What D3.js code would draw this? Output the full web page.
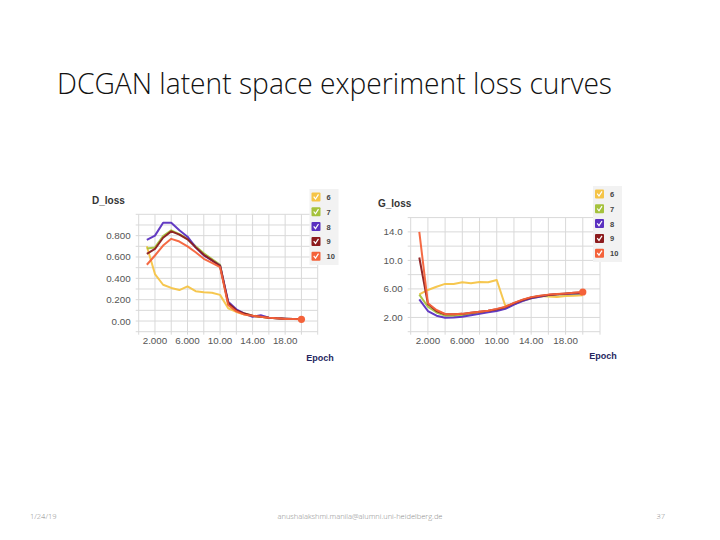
<!DOCTYPE html>
<html><head><meta charset="utf-8">
<script src="https://cdn.jsdelivr.net/npm/d3@7"></script>
<style>
html,body{margin:0;padding:0;background:#fff;}
svg{display:block;}
</style></head>
<body>
<svg id="c" width="720" height="540"></svg>
<script>
const epochs = d3.range(1, 21);
const seriesNames = ["6", "7", "8", "9", "10"];
const seriesColors = ["#f5c447", "#a5c23c", "#5a30c0", "#8c1b1d", "#f4623a"];

const dLoss6  = [0.70, 0.44, 0.34, 0.31, 0.29, 0.325, 0.28, 0.27, 0.265, 0.245, 0.12, 0.085, 0.06, 0.045, 0.04, 0.03, 0.025, 0.02, 0.02, 0.02];
const dLoss7  = [0.68, 0.69, 0.795, 0.85, 0.815, 0.77, 0.70, 0.635, 0.58, 0.527, 0.16, 0.10, 0.07, 0.05, 0.04, 0.03, 0.025, 0.022, 0.02, 0.02];
const dLoss8  = [0.76, 0.80, 0.92, 0.92, 0.85, 0.79, 0.69, 0.615, 0.567, 0.52, 0.18, 0.11, 0.07, 0.04, 0.055, 0.03, 0.025, 0.022, 0.02, 0.02];
const dLoss9  = [0.63, 0.675, 0.78, 0.84, 0.81, 0.765, 0.69, 0.62, 0.57, 0.515, 0.17, 0.10, 0.07, 0.05, 0.04, 0.03, 0.025, 0.022, 0.02, 0.02];
const dLoss10 = [0.527, 0.614, 0.707, 0.77, 0.745, 0.70, 0.645, 0.583, 0.545, 0.505, 0.15, 0.09, 0.06, 0.05, 0.04, 0.03, 0.025, 0.02, 0.018, 0.016];

const gLoss6  = [5.24, 5.85, 6.3, 6.7, 6.7, 6.93, 6.8, 6.98, 6.93, 7.25, 3.6, 3.9, 4.4, 4.75, 5.0, 4.95, 4.85, 5.0, 5.05, 5.1];
const gLoss7  = [5.2, 3.5, 2.7, 2.25, 2.25, 2.3, 2.5, 2.7, 2.85, 3.05, 3.3, 3.85, 4.35, 4.7, 4.95, 5.1, 5.2, 5.25, 5.3, 5.35];
const gLoss8  = [4.54, 2.9, 2.25, 1.97, 2.0, 2.1, 2.3, 2.5, 2.72, 2.9, 3.2, 3.8, 4.3, 4.7, 4.9, 5.15, 5.25, 5.3, 5.35, 5.4];
const gLoss9  = [10.4, 3.9, 2.9, 2.45, 2.45, 2.5, 2.65, 2.8, 2.95, 3.15, 3.45, 4.0, 4.45, 4.8, 5.0, 5.15, 5.25, 5.35, 5.45, 5.5];
const gLoss10 = [14.0, 3.98, 3.04, 2.48, 2.45, 2.5, 2.65, 2.8, 2.95, 3.2, 3.5, 4.05, 4.5, 4.85, 5.05, 5.2, 5.3, 5.35, 5.45, 5.57];

const xTickValues = [2, 6, 10, 14, 18];
const xTickLabels = ["2.000", "6.000", "10.00", "14.00", "18.00"];
const dTickValues = [0, 0.2, 0.4, 0.6, 0.8];
const dTickLabels = ["0.00", "0.200", "0.400", "0.600", "0.800"];
const gTickValues = [2, 6, 10, 14];
const gTickLabels = ["2.00", "6.00", "10.0", "14.0"];

const slideTitle = "DCGAN latent space experiment loss curves";
const footerDate = "1/24/19";
const footerEmail = "anushalakshmi.manila@alumni.uni-heidelberg.de";
const footerPage = "37";

const svg = d3.select("#c");
svg.append("rect").attr("width", 720).attr("height", 540).attr("fill", "#fff");

svg.append("text").attr("x", 57).attr("y", 94)
  .attr("font-family", "Open Sans, Lato, sans-serif").attr("font-weight", 300)
  .attr("font-size", 28.5).attr("fill", "#111")
  .attr("textLength", 555).attr("lengthAdjust", "spacingAndGlyphs")
  .text(slideTitle);

const ff = "'Liberation Sans', Arial, sans-serif";
const fl = "'Open Sans', Lato, sans-serif";
svg.append("text").attr("x", 30).attr("y", 519).attr("font-family", fl).attr("font-weight", 300).attr("font-size", 7.5).attr("fill", "#8a8a8a").text(footerDate);
svg.append("text").attr("x", 360).attr("y", 519).attr("text-anchor", "middle").attr("font-family", fl).attr("font-weight", 300).attr("font-size", 7.5).attr("fill", "#8a8a8a").text(footerEmail);
svg.append("text").attr("x", 665).attr("y", 519).attr("text-anchor", "end").attr("font-family", fl).attr("font-weight", 300).attr("font-size", 7.5).attr("fill", "#8a8a8a").text(footerPage);

function panel(cfg) {
  const g = svg.append("g");
  const x = d3.scaleLinear().domain([0, 22]).range(cfg.xr);
  const y = d3.scaleLinear().domain(cfg.yd).range([331.7, cfg.yTop]);
  // grid
  const gridX = d3.range(0, 23, 2);
  const gridY = d3.range(cfg.yd[0], cfg.yd[1] + cfg.gstep / 2, cfg.gstep);
  g.selectAll(".gx").data(gridX).join("line")
    .attr("x1", d => x(d)).attr("x2", d => x(d))
    .attr("y1", y(cfg.yd[1])).attr("y2", y(cfg.yd[0]) + 3)
    .attr("stroke", "#d9d9d9").attr("stroke-width", 1);
  g.selectAll(".gy").data(gridY).join("line")
    .attr("x1", x(0) - 3).attr("x2", x(22))
    .attr("y1", d => y(d)).attr("y2", d => y(d))
    .attr("stroke", "#d9d9d9").attr("stroke-width", 1);
  // tick labels
  g.selectAll(".ty").data(cfg.yTicks).join("text")
    .attr("x", x(0) - 8).attr("y", d => y(d) + 3.5)
    .attr("text-anchor", "end").attr("font-family", ff).attr("font-size", 9.8).attr("fill", "#555")
    .text((d, i) => cfg.yLabels[i]);
  g.selectAll(".tx").data(xTickValues).join("text")
    .attr("x", d => x(d)).attr("y", 344)
    .attr("text-anchor", "middle").attr("font-family", ff).attr("font-size", 9.8).attr("fill", "#555")
    .text((d, i) => xTickLabels[i]);
  // titles
  g.append("text").attr("x", cfg.titleX).attr("y", cfg.titleY)
    .attr("font-family", ff).attr("font-weight", 700).attr("font-size", 10).attr("fill", "#333").text(cfg.title);
  g.append("text").attr("x", cfg.epochX).attr("y", cfg.epochY).attr("text-anchor", "middle")
    .attr("font-family", ff).attr("font-weight", 700).attr("font-size", 9).attr("fill", "#26275e").text("Epoch");
  // lines
  const line = d3.line().x((d, i) => x(epochs[i])).y(d => y(d));
  cfg.series.forEach((s, k) => {
    g.append("path").datum(s).attr("d", line).attr("fill", "none")
      .attr("stroke", seriesColors[k]).attr("stroke-width", 2).attr("stroke-linejoin", "round").attr("opacity", 0.95);
  });
  const last = cfg.series[cfg.series.length - 1];
  g.append("circle").attr("cx", x(epochs[epochs.length - 1])).attr("cy", y(last[last.length - 1]))
    .attr("r", 3.6).attr("fill", seriesColors[4]);
  // legend
  const lg = g.append("g");
  lg.append("rect").attr("x", cfg.legX - 2).attr("y", cfg.legY0 - 8).attr("width", 29).attr("height", 76)
    .attr("fill", "#f2f2f2");
  seriesNames.forEach((n, k) => {
    const cy = cfg.legY0 + k * 14.8;
    lg.append("rect").attr("x", cfg.legX).attr("y", cy - 4.5).attr("width", 9).attr("height", 9)
      .attr("rx", 1).attr("fill", seriesColors[k]);
    lg.append("path").attr("d", `M${cfg.legX + 2.2},${cy - 0.3} L${cfg.legX + 4},${cy + 2} L${cfg.legX + 7},${cy - 2.6}`)
      .attr("fill", "none").attr("stroke", "#fff").attr("stroke-width", 1.2);
    lg.append("text").attr("x", cfg.legX + 15).attr("y", cy + 3)
      .attr("font-family", ff).attr("font-weight", 700).attr("font-size", 7.5).attr("fill", "#444").text(n);
  });
}

panel({
  xr: [138.7, 317.7], yd: [-0.1, 1.0], yTop: 214.3, gstep: 0.1,
  yTicks: dTickValues, yLabels: dTickLabels,
  title: "D_loss", titleX: 92, titleY: 204, epochX: 320, epochY: 361,
  series: [dLoss6, dLoss7, dLoss8, dLoss9, dLoss10],
  legX: 311.5, legY0: 197
});
panel({
  xr: [410.7, 600], yd: [0, 16], yTop: 217.6, gstep: 2,
  yTicks: gTickValues, yLabels: gTickLabels,
  title: "G_loss", titleX: 378, titleY: 207, epochX: 603, epochY: 359,
  series: [gLoss6, gLoss7, gLoss8, gLoss9, gLoss10],
  legX: 595, legY0: 194
});
</script>
</body></html>
